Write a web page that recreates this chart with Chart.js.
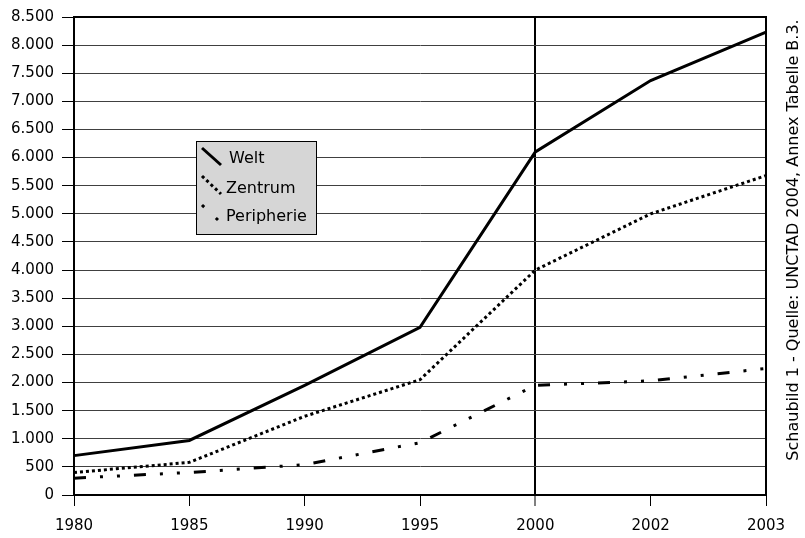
<!DOCTYPE html>
<html>
<head>
<meta charset="utf-8">
<script src="https://cdn.jsdelivr.net/npm/chart.js@4"></script>
<style>
  html, body { margin: 0; padding: 0; background: #fff; }
  #wrap { width: 805px; height: 538px; }
</style>
</head>
<body>
<div id="wrap"><canvas id="lineChart" width="805" height="538"></canvas></div>
<script>
var years = ["1980", "1985", "1990", "1995", "2000", "2002", "2003"];
var welt = [700, 970, 1950, 2980, 6100, 7370, 8230];
var zentrum = [400, 580, 1400, 2050, 4000, 5000, 5680];
var peripherie = [300, 400, 540, 930, 1950, 2030, 2250];
var seriesNames = ["Welt", "Zentrum", "Peripherie"];
var sourceText = "Schaubild 1 - Quelle: UNCTAD 2004, Annex Tabelle B.3.";

var fontName = "'DejaVu Sans', Verdana, sans-serif";
var dashWelt = [];
var dashZentrum = [3, 3];
var dashPeripherie = [12, 14, 3, 14, 3, 14];

function fmt(v) {
    var s = String(v);
    return s.length > 3 ? s.slice(0, -3) + "." + s.slice(-3) : s;
}

// box around plot, legend and the rotated source note
var extras = {
    id: "extras",
    afterDraw: function (chart) {
        var c = chart.ctx, a = chart.chartArea;
        c.save();
        c.strokeStyle = "#000";
        c.lineWidth = 2;
        c.strokeRect(a.left, a.top, a.right - a.left, a.bottom - a.top);

        // legend
        c.fillStyle = "#d6d6d6";
        c.fillRect(196, 141, 120, 93);
        c.lineWidth = 1;
        c.strokeRect(196.5, 141.5, 120, 93);
        var samples = [
            { d: dashWelt, x1: 202, y1: 148, x2: 221, y2: 165, tx: 229, ty: 159 },
            { d: dashZentrum, x1: 202, y1: 176, x2: 221, y2: 194, tx: 226, ty: 189 },
            { d: [3, 16], x1: 202, y1: 205, x2: 218, y2: 220, tx: 226, ty: 217 }
        ];
        c.lineWidth = 3;
        samples.forEach(function (s, i) {
            c.setLineDash(s.d);
            c.beginPath();
            c.moveTo(s.x1, s.y1);
            c.lineTo(s.x2, s.y2);
            c.stroke();
            c.setLineDash([]);
            c.fillStyle = "#000";
            c.font = "16px " + fontName;
            c.textBaseline = "middle";
            c.fillText(seriesNames[i], s.tx, s.ty);
        });

        // rotated source text
        c.translate(794, 240);
        c.rotate(-Math.PI / 2);
        c.textAlign = "center";
        c.textBaseline = "middle";
        c.font = "16px " + fontName;
        c.fillText(sourceText, 0, 0);
        c.restore();
    }
};

new Chart("lineChart", {
    type: "line",
    data: {
        labels: years,
        datasets: [{
            label: seriesNames[0],
            data: welt,
            borderColor: "#000",
            borderWidth: 3,
            borderDash: dashWelt,
            pointRadius: 0,
            tension: 0
        }, {
            label: seriesNames[1],
            data: zentrum,
            borderColor: "#000",
            borderWidth: 3,
            borderDash: dashZentrum,
            pointRadius: 0,
            tension: 0
        }, {
            label: seriesNames[2],
            data: peripherie,
            borderColor: "#000",
            borderWidth: 3,
            borderDash: dashPeripherie,
            pointRadius: 0,
            tension: 0
        }]
    },
    options: {
        responsive: false,
        animation: false,
        layout: { padding: { top: 12, right: 39, left: 0, bottom: 0 } },
        plugins: { legend: { display: false }, tooltip: { enabled: false } },
        scales: {
            x: {
                offset: false,
                afterFit: function (s) { s.height = 43; },
                grid: {
                    color: function (ctx) { return ctx.index === 4 ? "#000" : "rgba(0,0,0,0)"; },
                    lineWidth: function (ctx) { return ctx.index === 4 ? 2 : 1; },
                    tickColor: "#000",
                    tickLength: 11,
                    tickWidth: 1
                },
                border: { display: true, color: "#000", width: 2 },
                ticks: { color: "#000", font: { family: fontName, size: 15 }, padding: 11, maxRotation: 0 }
            },
            y: {
                min: 0,
                max: 8500,
                afterFit: function (s) { s.width = 74; },
                grid: {
                    color: "#404040",
                    lineWidth: 1,
                    tickColor: "#000",
                    tickLength: 12
                },
                border: { display: true, color: "#000", width: 2 },
                ticks: {
                    stepSize: 500,
                    color: "#000",
                    font: { family: fontName, size: 15 },
                    padding: 8,
                    callback: function (v) { return fmt(v); }
                }
            }
        }
    },
    plugins: [extras]
});
</script>
</body>
</html>
